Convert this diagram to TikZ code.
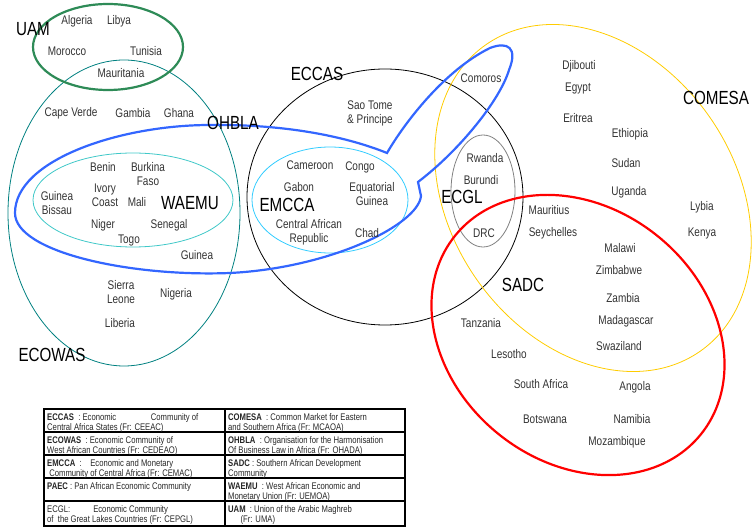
\documentclass[tikz,border=0pt]{standalone}
\usepackage{fontspec}
\setmainfont{Liberation Sans}[FakeStretch=0.8]
\usetikzlibrary{calc,positioning}

\definecolor{uamgreen}{RGB}{46,139,87}
\definecolor{ecowasteal}{RGB}{0,128,128}
\definecolor{waemucyan}{RGB}{64,200,200}
\definecolor{ohblablue}{RGB}{51,102,255}
\definecolor{emccablue}{RGB}{51,204,255}
\definecolor{comesagold}{RGB}{255,204,0}
\definecolor{ecglgray}{RGB}{128,128,128}
\definecolor{sadcred}{RGB}{255,0,0}

\begin{document}
\begin{tikzpicture}[
    x=1pt, y=-1pt,
    land/.style  = {text=black!80, font=\fontsize{12.5}{14}\selectfont, align=center, inner sep=0pt},
    bloc/.style  = {text=black, font=\fontsize{19}{21}\selectfont, inner sep=0pt},
    cell/.style  = {text=black!85, font=\fontsize{9.6}{10.2}\selectfont, align=left, anchor=north west, inner sep=0pt},
    thickring/.style = {line width=2.2pt},
    thinring/.style  = {line width=0.8pt},
    box/.style   = {line width=1.6pt},
  ]

	\useasboundingbox (0,0) rectangle (753,529);

	% Mittelpunkte der Gemeinschaften
	\coordinate (UAMc) at (108,47);
	\coordinate (ECOWASc) at (124,213);
	\coordinate (WAEMUc) at (133,200);
	\coordinate (ECCASc) at (385,197);
	\coordinate (EMCCAc) at (330,200);
	\coordinate (COMESAc) at (593,198);
	\coordinate (ECGLc) at (483,191);
	\coordinate (SADCc) at (578,335);

	% Ellipsen
	\draw[thinring, ecowasteal] (ECOWASc) ellipse [x radius=116pt, y radius=153pt];
	\draw[thinring, waemucyan] (WAEMUc) ellipse [x radius=100pt, y radius=47pt];
	\draw[thinring, black] (ECCASc) ellipse [x radius=138pt, y radius=128pt];
	\draw[thinring, emccablue] (EMCCAc) ellipse [x radius=78pt, y radius=53pt];
	\draw[thinring, comesagold, rotate around={-55:(COMESAc)}] (COMESAc) ellipse [x radius=187pt, y radius=142pt];
	\draw[thinring, ecglgray] (ECGLc) ellipse [x radius=32pt, y radius=56pt];
	\draw[thickring, sadcred, rotate around={-39:(SADCc)}] (SADCc) ellipse [x radius=158pt, y radius=127pt];
	\draw[thickring, uamgreen] (UAMc) ellipse [x radius=75pt, y radius=43pt];

	% OHBLA mit Ausbuchtung zu den Komoren
	\draw[thickring, ohblablue] (15,213)
		.. controls (15,160) and (120,125) .. (210,125)
		.. controls (290,124) and (350,138) .. (387,153)
		.. controls (405,122) and (445,70) .. (490,48)
		.. controls (508,41) and (518,48) .. (509,70)
		.. controls (500,100) and (460,150) .. (418,182)
		-- (421,196)
		.. controls (418,225) and (330,268) .. (230,273)
		.. controls (130,277) and (15,252) .. cycle;

	% Namen der Gemeinschaften
	\node[bloc] (UAM) at (33,29) {UAM};
	\node[bloc] (ECOWAS) at (52,355) {ECOWAS};
	\node[bloc] (WAEMU) at (190,203) {WAEMU};
	\node[bloc] (OHBLA) at (233,123) {OHBLA};
	\node[bloc] (ECCAS) at (317,74) {ECCAS};
	\node[bloc] (EMCCA) at (287,205) {EMCCA};
	\node[bloc] (COMESA) at (716,98) {COMESA};
	\node[bloc] (ECGL) at (462,197) {ECGL};
	\node[bloc] (SADC) at (523,285) {SADC};

	% Laender Westafrika / Maghreb
	\node[land] (Algeria) at (77,21) {Algeria};
	\node[land] (Libya) at (119,21) {Libya};
	\node[land] (Morocco) at (67,51) {Morocco};
	\node[land] (Tunisia) at (146,51) {Tunisia};
	\node[land] (Mauritania) at (121,73) {Mauritania};
	\node[land] (CapeVerde) at (71,113) {Cape Verde};
	\node[land] (Gambia) at (133,113) {Gambia};
	\node[land] (Ghana) at (179,113) {Ghana};
	\node[land] (Benin) at (103,167) {Benin};
	\node[land] (Burkina) at (148,174) {Burkina\\Faso};
	\node[land] (Ivory) at (105,195) {Ivory\\Coast};
	\node[land] (Mali) at (137,202) {Mali};
	\node[land] (GBissau) at (57,203) {Guinea\\Bissau};
	\node[land] (Niger) at (103,225) {Niger};
	\node[land] (Senegal) at (169,225) {Senegal};
	\node[land] (Togo) at (129,240) {Togo};
	\node[land] (Guinea) at (197,255) {Guinea};
	\node[land] (Sierra) at (121,292) {Sierra\\Leone};
	\node[land] (Nigeria) at (176,294) {Nigeria};
	\node[land] (Liberia) at (120,323) {Liberia};

	% Laender Zentralafrika
	\node[land] (SaoTome) at (370,113) {Sao Tome\\\& Principe};
	\node[land] (Cameroon) at (310,165) {Cameroon};
	\node[land] (Congo) at (360,167) {Congo};
	\node[land] (Gabon) at (299,187) {Gabon};
	\node[land] (EqGuinea) at (372,194) {Equatorial\\Guinea};
	\node[land] (CAR) at (309,232) {Central African\\Republic};
	\node[land] (Chad) at (367,233) {Chad};
	\node[land] (Comoros) at (481,78) {Comoros};
	\node[land] (Rwanda) at (485,158) {Rwanda};
	\node[land] (Burundi) at (481,180) {Burundi};
	\node[land] (DRC) at (484,233) {DRC};

	% Laender Ost- und Suedafrika
	\node[land] (Djibouti) at (579,66) {Djibouti};
	\node[land] (Egypt) at (578,89) {Egypt};
	\node[land] (Eritrea) at (578,118) {Eritrea};
	\node[land] (Ethiopia) at (630,134) {Ethiopia};
	\node[land] (Sudan) at (626,163) {Sudan};
	\node[land] (Uganda) at (629,192) {Uganda};
	\node[land] (Mauritius) at (549,210) {Mauritius};
	\node[land] (Seychelles) at (553,233) {Seychelles};
	\node[land] (Lybia) at (702,207) {Lybia};
	\node[land] (Kenya) at (702,233) {Kenya};
	\node[land] (Malawi) at (620,248) {Malawi};
	\node[land] (Zimbabwe) at (619,270) {Zimbabwe};
	\node[land] (Zambia) at (623,298) {Zambia};
	\node[land] (Tanzania) at (481,323) {Tanzania};
	\node[land] (Madagascar) at (626,321) {Madagascar};
	\node[land] (Swaziland) at (619,346) {Swaziland};
	\node[land] (Lesotho) at (509,354) {Lesotho};
	\node[land] (SouthAfrica) at (541,384) {South Africa};
	\node[land] (Angola) at (635,387) {Angola};
	\node[land] (Botswana) at (545,419) {Botswana};
	\node[land] (Namibia) at (632,419) {Namibia};
	\node[land] (Mozambique) at (617,442) {Mozambique};

	% Legende
	\draw[box] (44,409) rectangle (225,432);
	\draw[box] (44,432) rectangle (225,455);
	\draw[box] (44,455) rectangle (225,478);
	\draw[box] (44,478) rectangle (225,501);
	\draw[box] (44,501) rectangle (225,526);
	\draw[box] (225,409) rectangle (405,432);
	\draw[box] (225,432) rectangle (405,455);
	\draw[box] (225,455) rectangle (405,478);
	\draw[box] (225,478) rectangle (405,501);
	\draw[box] (225,501) rectangle (405,526);

	\node[cell] (lECCAS) at (47,413) {\textbf{ECCAS}\ \ : Economic\hspace{3.6em}Community of\\Central Africa States (Fr: CEEAC)};
	\node[cell] (lECOWAS) at (47,436) {\textbf{ECOWAS}\ \ : Economic Community of\\West African Countries (Fr: CEDEAO)};
	\node[cell] (lEMCCA) at (47,459) {\textbf{EMCCA}\ \ :\ \ \ \ Economic and Monetary\\\ Community of Central Africa (Fr: CEMAC)};
	\node[cell] (lPAEC) at (47,482) {\textbf{PAEC} : Pan African Economic Community};
	\node[cell] (lECGL) at (47,505) {ECGL:\hspace{2.4em}Economic Community\\of\ \ the Great Lakes Countries (Fr: CEPGL)};
	\node[cell] (lCOMESA) at (228,413) {\textbf{COMESA}\ \ : Common Market for Eastern\\and Southern Africa (Fr: MCAOA)};
	\node[cell] (lOHBLA) at (228,436) {\textbf{OHBLA}\ \ : Organisation for the Harmonisation\\Of Business Law in Africa (Fr: OHADA)};
	\node[cell] (lSADC) at (228,459) {\textbf{SADC} : Southern African Development\\Community};
	\node[cell] (lWAEMU) at (228,482) {\textbf{WAEMU}\ \ : West African Economic and\\Monetary Union (Fr: UEMOA)};
	\node[cell] (lUAM) at (228,505) {\textbf{UAM}\ \ : Union of the Arabic Maghreb\\\hspace{1.3em}(Fr: UMA)};

\end{tikzpicture}
\end{document}
